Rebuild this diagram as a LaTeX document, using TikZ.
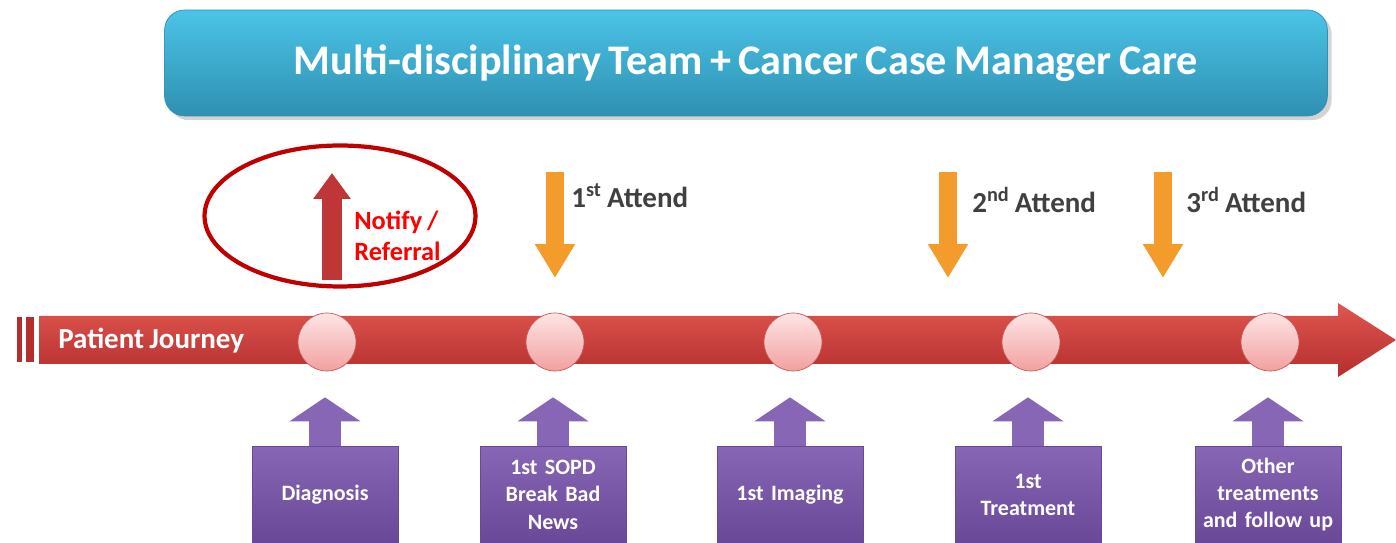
\documentclass[tikz,border=0pt]{standalone}
\usepackage{fontspec}
\setmainfont{Carlito}[WordSpace=0.8]
\usetikzlibrary{arrows.meta,shapes,shadows,positioning}
\definecolor{bannerhi}{HTML}{4AC4E7}
\definecolor{bannerlo}{HTML}{2F90B2}
\definecolor{journeyhi}{HTML}{E0564F}
\definecolor{journeylo}{HTML}{B42E2E}
\definecolor{stophi}{HTML}{FEE4E4}
\definecolor{stoplo}{HTML}{F2A0A0}
\definecolor{stopline}{HTML}{C65858}
\definecolor{stephi}{HTML}{8766B6}
\definecolor{steplo}{HTML}{6A4898}
\definecolor{attendc}{HTML}{F39C2C}
\definecolor{notifyc}{HTML}{BE3636}
\definecolor{ringc}{HTML}{C00000}
\definecolor{darktext}{HTML}{404040}
\tikzstyle{banner}=[rectangle,rounded corners=0.4cm,minimum width=23.26cm,
                minimum height=2.12cm,top color=bannerhi,bottom color=bannerlo,
                draw=bannerlo,drop shadow={opacity=0.35},text=white,
                font=\bfseries\fontsize{24}{28}\selectfont]
\tikzstyle{stop}=[circle,minimum size=1.16cm,inner sep=0,draw=stopline,
                top color=stophi,bottom color=stoplo]
\tikzstyle{stepbox}=[rectangle,minimum width=2.92cm,minimum height=1.92cm,
                inner sep=0,text width=2.8cm,align=center,top color=stephi,
                bottom color=steplo,draw=steplo,text=white,
                font=\bfseries\fontsize{12.5}{15.5}\selectfont]
\tikzstyle{steparrow}=[draw=stephi,line width=0.64cm,
                -{Triangle[width=1.4cm,length=0.48cm]}]
\tikzstyle{attendarrow}=[draw=attendc,line width=0.36cm,
                -{Triangle[width=0.76cm,length=0.68cm]}]
\tikzstyle{notifyarrow}=[draw=notifyc,line width=0.4cm,
                -{Triangle[width=0.72cm,length=0.52cm]}]
\tikzstyle{attendtext}=[anchor=west,inner sep=0,text=darktext,
                font=\bfseries\fontsize{16.5}{19}\selectfont]

\begin{document}
\begin{tikzpicture}[x=0.02cm,y=-0.02cm]
\path[use as bounding box] (0,0) rectangle (1396,543);

% team banner
\node[banner] (mdt) at (746,63) {Multi-disciplinary Team + Cancer Case Manager Care};

% journey bar
\shade[top color=journeyhi,bottom color=journeylo]
  (39,316) -- (1338,316) -- (1338,303) -- (1396,340) -- (1338,377)
  -- (1338,364) -- (39,364) -- cycle;
\fill[journeylo] (17,317) rectangle (22,362);
\fill[journeylo] (26,317) rectangle (34,362);
\node[anchor=west,inner sep=0,text=white,font=\bfseries\fontsize{16.5}{19}\selectfont]
  (journey) at (58,341) {Patient Journey};

\node[stop] (c1) at (327,342) {};
\node[stop] (c2) at (555,342) {};
\node[stop] (c3) at (793,342) {};
\node[stop] (c4) at (1031,342) {};
\node[stop] (c5) at (1270,342) {};

% steps below the bar
\node[stepbox,below=1.5cm of c1,xshift=-0.04cm] (diag) {Diagnosis};
\node[stepbox,below=1.5cm of c2,xshift=-0.04cm] (sopd) {1st SOPD\\Break Bad\\News};
\node[stepbox,below=1.5cm of c3,xshift=-0.06cm] (imaging) {1st Imaging};
\node[stepbox,below=1.5cm of c4,xshift=-0.06cm] (treat) {1st\\Treatment};
\node[stepbox,below=1.5cm of c5,xshift=-0.04cm] (other) {Other\\treatments\\and follow up};

\draw[steparrow] (diag.north) -- ([yshift=0.98cm]diag.north);
\draw[steparrow] (sopd.north) -- ([yshift=0.98cm]sopd.north);
\draw[steparrow] (imaging.north) -- ([yshift=0.98cm]imaging.north);
\draw[steparrow] (treat.north) -- ([yshift=0.98cm]treat.north);
\draw[steparrow] (other.north) -- ([yshift=0.98cm]other.north);

% attendances
\coordinate (att1top) at (555,172);
\coordinate (att1tip) at (555,278);
\coordinate (att2top) at (948,172);
\coordinate (att2tip) at (948,278);
\coordinate (att3top) at (1163,172);
\coordinate (att3tip) at (1163,278);
\draw[attendarrow] (att1top) -- (att1tip);
\draw[attendarrow] (att2top) -- (att2tip);
\draw[attendarrow] (att3top) -- (att3tip);
\node[attendtext] (att1) at (571,196) {1\textsuperscript{st} Attend};
\node[attendtext] (att2) at (972,200) {2\textsuperscript{nd} Attend};
\node[attendtext] (att3) at (1186,200) {3\textsuperscript{rd} Attend};

% referral
\coordinate (notifybase) at (332,280);
\coordinate (notifytip) at (332,173);
\draw[notifyarrow] (notifybase) -- (notifytip);
\node[anchor=west,align=left,inner sep=0,text=red,
  font=\bfseries\fontsize{15}{18}\selectfont] (notify) at (354,236) {Notify /\\Referral};
\node[ellipse,draw=ringc,line width=2.4pt,minimum width=5.42cm,
  minimum height=2.82cm] (ring) at (340,216) {};
\end{tikzpicture}
\end{document}
